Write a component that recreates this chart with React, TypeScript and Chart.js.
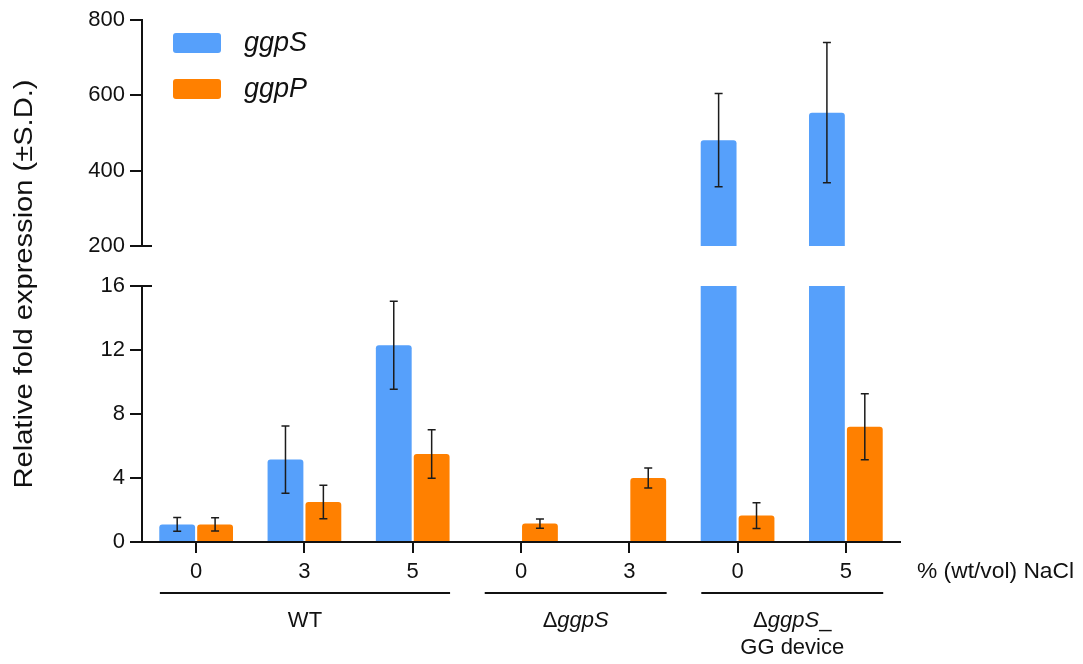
import React, { useEffect, useRef } from 'react';
import { Chart, registerables } from 'chart.js';

Chart.register(...registerables);

// ---------- data ----------
const categories = ['0', '3', '5', '0', '3', '0', '5'];
const seriesNames = ['ggpS', 'ggpP'];
const ggpSValues: (number | null)[] = [1.1, 5.15, 12.3, null, null, 481, 554];
const ggpSErrors: (number | null)[] = [0.43, 2.1, 2.75, null, null, 124, 186];
const ggpPValues: (number | null)[] = [1.1, 2.5, 5.5, 1.15, 4.0, 1.65, 7.2];
const ggpPErrors: (number | null)[] = [0.41, 1.04, 1.52, 0.29, 0.63, 0.8, 2.06];
const lowAxisTicks = [0, 4, 8, 12, 16];
const highAxisTicks = [200, 400, 600, 800];
const groupStart = [0, 3, 5];
const groupEnd = [2, 4, 6];
// each group label: lines of [text, italic] segments
const groupLabels: [string, boolean][][][] = [
  [[['WT', false]]],
  [[['Δ', false], ['ggpS', true]]],
  [[['Δ', false], ['ggpS', true], ['_', false]], [['GG device', false]]],
];
const xAxisTitle = '% (wt/vol) NaCl';
const yAxisTitle = 'Relative fold expression (±S.D.)';

// ---------- style ----------
const FONT = "'Liberation Sans', Arial, Helvetica, sans-serif";
const BLUE = '#56A0FB';
const ORANGE = '#FF8000';
const INK = '#111111';
const BREAK_LOW = lowAxisTicks[lowAxisTicks.length - 1];
const BREAK_HIGH = highAxisTicks[0];

function roundRectPath(ctx: CanvasRenderingContext2D, x: number, y: number, w: number, h: number, r: number) {
  ctx.beginPath();
  ctx.moveTo(x + r, y);
  ctx.lineTo(x + w - r, y);
  ctx.arcTo(x + w, y, x + w, y + r, r);
  ctx.lineTo(x + w, y + h - r);
  ctx.arcTo(x + w, y + h, x + w - r, y + h, r);
  ctx.lineTo(x + r, y + h);
  ctx.arcTo(x, y + h, x, y + h - r, r);
  ctx.lineTo(x, y + r);
  ctx.arcTo(x, y, x + r, y, r);
  ctx.closePath();
}

function drawSegments(ctx: CanvasRenderingContext2D, segs: [string, boolean][], cx: number, cy: number, size: number) {
  const fonts = segs.map(([, it]) => `${it ? 'italic ' : ''}${size}px ${FONT}`);
  let total = 0;
  const widths = segs.map(([t], i) => {
    ctx.font = fonts[i];
    const w = ctx.measureText(t).width;
    total += w;
    return w;
  });
  let x = cx - total / 2;
  ctx.textAlign = 'left';
  ctx.textBaseline = 'middle';
  segs.forEach(([t], i) => {
    ctx.font = fonts[i];
    ctx.fillText(t, x, cy);
    x += widths[i];
  });
}

const annotationPlugin = {
  id: 'annotations',
  afterDatasetsDraw(chart: any) {
    const ctx: CanvasRenderingContext2D = chart.ctx;
    const yLow = chart.scales.yLow;
    const yHigh = chart.scales.yHigh;
    const series = [
      { vals: ggpSValues, errs: ggpSErrors, ds: 0 },
      { vals: ggpPValues, errs: ggpPErrors, ds: 1 },
    ];
    ctx.save();
    ctx.strokeStyle = '#1c1c1c';
    ctx.lineWidth = 1.5;
    series.forEach((s) => {
      const meta = chart.getDatasetMeta(s.ds);
      s.vals.forEach((v, i) => {
        const e = s.errs[i];
        if (v == null || e == null) return;
        const sc = v > BREAK_HIGH ? yHigh : yLow;
        const x = meta.data[i].x;
        const yt = sc.getPixelForValue(v + e);
        const yb = sc.getPixelForValue(v - e);
        ctx.beginPath();
        ctx.moveTo(x, yt);
        ctx.lineTo(x, yb);
        ctx.moveTo(x - 4, yt);
        ctx.lineTo(x + 4, yt);
        ctx.moveTo(x - 4, yb);
        ctx.lineTo(x + 4, yb);
        ctx.stroke();
      });
    });
    ctx.restore();
  },
  afterDraw(chart: any) {
    const ctx: CanvasRenderingContext2D = chart.ctx;
    const area = chart.chartArea;
    const xs = chart.scales.x;
    const yLow = chart.scales.yLow;
    const yHigh = chart.scales.yHigh;
    ctx.save();
    ctx.fillStyle = INK;
    ctx.strokeStyle = INK;

    // axis break marks (ticks reaching right of the axis)
    ctx.lineWidth = 2;
    ctx.beginPath();
    const yb1 = yHigh.getPixelForValue(BREAK_HIGH);
    const yb2 = yLow.getPixelForValue(BREAK_LOW);
    ctx.moveTo(area.left, yb1);
    ctx.lineTo(area.left + 10, yb1);
    ctx.moveTo(area.left, yb2);
    ctx.lineTo(area.left + 10, yb2);
    ctx.stroke();

    // legend
    const colors = [BLUE, ORANGE];
    seriesNames.forEach((name, i) => {
      const bx = area.left + 31;
      const by = area.top + 13 + i * 46;
      ctx.fillStyle = colors[i];
      roundRectPath(ctx, bx, by, 48, 20, 3);
      ctx.fill();
      ctx.fillStyle = INK;
      ctx.font = `italic 27px ${FONT}`;
      ctx.textAlign = 'left';
      ctx.textBaseline = 'middle';
      ctx.fillText(name, bx + 71, by + 10);
    });

    // y-axis title (spans both axis segments)
    ctx.save();
    ctx.translate(25.5, 284);
    ctx.rotate(-Math.PI / 2);
    ctx.font = `25px ${FONT}`;
    const tw = ctx.measureText(yAxisTitle).width;
    ctx.scale(409 / tw, 1);
    ctx.textAlign = 'center';
    ctx.textBaseline = 'middle';
    ctx.fillText(yAxisTitle, 0, 0);
    ctx.restore();

    // x-axis title at the right of the tick row
    ctx.font = `22.8px ${FONT}`;
    ctx.textAlign = 'left';
    ctx.textBaseline = 'middle';
    ctx.fillText(xAxisTitle, area.right + 17, 572);

    // group lines and labels
    const cw = xs.width / categories.length;
    groupStart.forEach((gs, g) => {
      const x1 = xs.getPixelForValue(gs) - 0.335 * cw;
      const x2 = xs.getPixelForValue(groupEnd[g]) + 0.345 * cw;
      ctx.lineWidth = 2;
      ctx.beginPath();
      ctx.moveTo(x1, 593);
      ctx.lineTo(x2, 593);
      ctx.stroke();
      const cx = (x1 + x2) / 2;
      groupLabels[g].forEach((line, li) => {
        drawSegments(ctx, line, cx, 621 + li * 27, 22);
      });
    });
    ctx.restore();
  },
};

export default function App() {
  const canvasRef = useRef<HTMLCanvasElement | null>(null);

  useEffect(() => {
    if (!canvasRef.current) return;
    const radius = { topLeft: 3, topRight: 3, bottomLeft: 0, bottomRight: 0 };
    const noRadius = { topLeft: 0, topRight: 0, bottomLeft: 0, bottomRight: 0 };
    const lowData = (vals: (number | null)[]) => vals.map((v) => (v == null ? null : Math.min(v, BREAK_LOW)));
    const highData = (vals: (number | null)[]) =>
      vals.map((v) => (v != null && v > BREAK_HIGH ? [BREAK_HIGH, v] : null));

    const commonTicks = { color: INK, font: { family: FONT, size: 22 } };
    const yGrid = { display: true, drawOnChartArea: false, drawTicks: true, tickLength: 12, color: INK, lineWidth: 2 };
    const yBorder = { display: true, color: INK, width: 2 };
    const fixWidth = (s: any) => {
      s.width = 142;
    };

    const chart = new Chart(canvasRef.current, {
      type: 'bar',
      data: {
        labels: categories,
        datasets: [
          {
            label: seriesNames[0],
            data: lowData(ggpSValues) as any,
            yAxisID: 'yLow',
            stack: 'S',
            backgroundColor: BLUE,
            borderSkipped: 'bottom',
            borderRadius: (c: any) => {
              const v = ggpSValues[c.dataIndex];
              return v != null && v > BREAK_LOW ? noRadius : radius;
            },
          },
          {
            label: seriesNames[1],
            data: lowData(ggpPValues) as any,
            yAxisID: 'yLow',
            stack: 'P',
            backgroundColor: ORANGE,
            borderSkipped: 'bottom',
            borderRadius: (c: any) => {
              const v = ggpPValues[c.dataIndex];
              return v != null && v > BREAK_LOW ? noRadius : radius;
            },
          },
          {
            label: seriesNames[0] + ' (upper)',
            data: highData(ggpSValues) as any,
            yAxisID: 'yHigh',
            stack: 'S',
            backgroundColor: BLUE,
            borderSkipped: 'bottom',
            borderRadius: radius,
          },
          {
            label: seriesNames[1] + ' (upper)',
            data: highData(ggpPValues) as any,
            yAxisID: 'yHigh',
            stack: 'P',
            backgroundColor: ORANGE,
            borderSkipped: 'bottom',
            borderRadius: radius,
          },
        ],
      },
      options: {
        animation: false,
        responsive: true,
        maintainAspectRatio: false,
        devicePixelRatio: 1,
        datasets: { bar: { categoryPercentage: 0.7, barPercentage: 0.945 } },
        layout: { padding: { left: 0, right: 183, top: 20, bottom: 0 } },
        plugins: {
          legend: { display: false },
          tooltip: { enabled: false },
          title: { display: false },
        },
        scales: {
          x: {
            type: 'category',
            offset: true,
            grid: {
              display: true,
              offset: false,
              drawOnChartArea: false,
              drawTicks: true,
              tickLength: 11,
              color: INK,
              lineWidth: 2,
            },
            border: { display: true, color: INK, width: 2 },
            ticks: { ...commonTicks, padding: 6, maxRotation: 0, autoSkip: false },
            afterFit: (s: any) => {
              s.height = 122;
            },
          },
          yLow: {
            type: 'linear',
            position: 'left',
            stack: 'v',
            stackWeight: 256,
            weight: 1,
            stacked: false,
            min: lowAxisTicks[0],
            max: BREAK_LOW,
            afterBuildTicks: (s: any) => {
              s.ticks = lowAxisTicks.map((v) => ({ value: v }));
            },
            ticks: { ...commonTicks, padding: 5 },
            grid: yGrid,
            border: yBorder,
            afterFit: fixWidth,
          },
          yGap: {
            type: 'linear',
            position: 'left',
            stack: 'v',
            stackWeight: 40,
            weight: 2,
            display: true,
            ticks: { display: false },
            grid: { display: false },
            border: { display: false },
            afterFit: fixWidth,
          },
          yHigh: {
            type: 'linear',
            position: 'left',
            stack: 'v',
            stackWeight: 226,
            weight: 3,
            stacked: false,
            min: BREAK_HIGH,
            max: highAxisTicks[highAxisTicks.length - 1],
            afterBuildTicks: (s: any) => {
              s.ticks = highAxisTicks.map((v) => ({ value: v }));
            },
            ticks: { ...commonTicks, padding: 5 },
            grid: yGrid,
            border: yBorder,
            afterFit: fixWidth,
          },
        },
      } as any,
      plugins: [annotationPlugin],
    });
    return () => chart.destroy();
  }, []);

  return (
    <div style={{ position: 'fixed', left: 0, top: 0, width: 1083, height: 664, background: '#ffffff' }}>
      <canvas ref={canvasRef} />
    </div>
  );
}
